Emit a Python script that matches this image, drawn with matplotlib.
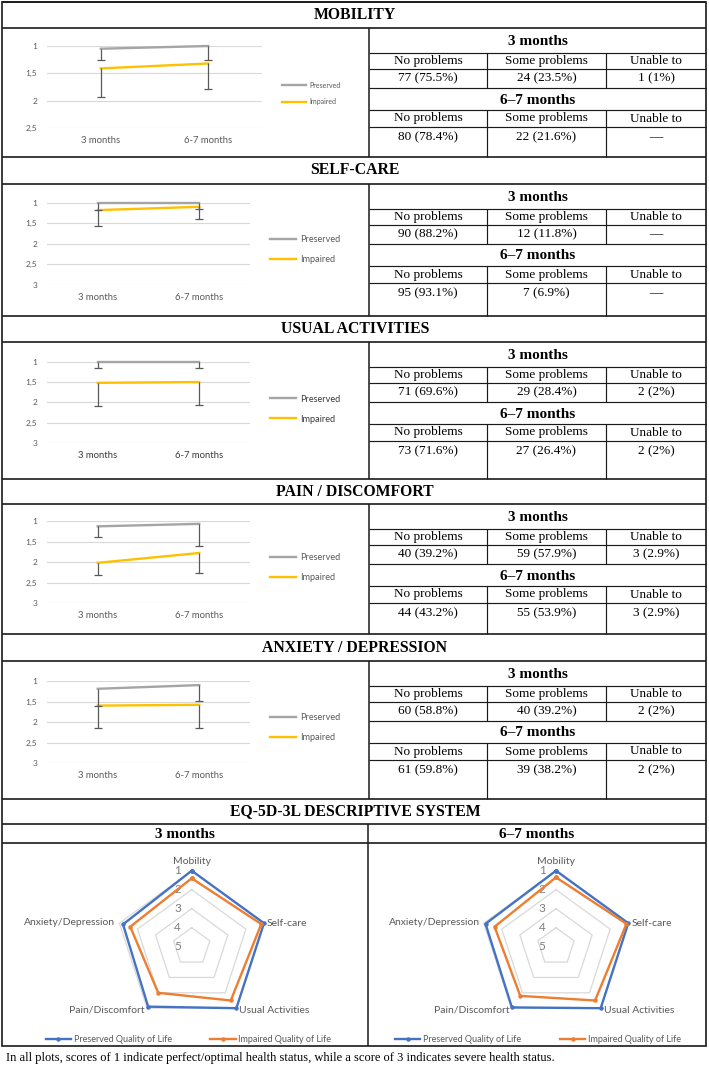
import matplotlib
matplotlib.use('Agg')
import matplotlib.pyplot as plt
import numpy as np
from matplotlib.lines import Line2D
from matplotlib.patches import Rectangle
from matplotlib.transforms import offset_copy

plt.rcParams['font.family'] = ['Lato', 'DejaVu Sans']

W, H = 709, 1073

# ---- data ----
timepoints = ['3 months', '6-7 months']
domain_titles = ['MOBILITY', 'SELF-CARE', 'USUAL ACTIVITIES', 'PAIN / DISCOMFORT', 'ANXIETY / DEPRESSION']

preserved_mean = [[1.05, 1.00], [1.00, 1.00], [1.00, 1.00], [1.13, 1.07], [1.19, 1.10]]
preserved_err = [[0.21, 0.26], [0.17, 0.15], [0.16, 0.16], [0.27, 0.53], [0.41, 0.39]]
impaired_mean = [[1.41, 1.32], [1.18, 1.10], [1.52, 1.50], [2.02, 1.78], [1.60, 1.58]]
impaired_err = [[0.52, 0.47], [0.38, 0.30], [0.56, 0.56], [0.29, 0.49], [0.55, 0.56]]
y_max = [2.5, 3, 3, 3, 3]

answer_labels = ['No problems', 'Some problems', 'Unable to']
counts_3m = [[77, 24, 1], [90, 12, 0], [71, 29, 2], [40, 59, 3], [60, 40, 2]]
pct_3m = [[75.5, 23.5, 1], [88.2, 11.8, 0], [69.6, 28.4, 2], [39.2, 57.9, 2.9], [58.8, 39.2, 2]]
counts_67m = [[80, 22, 0], [95, 7, 0], [73, 27, 2], [44, 55, 3], [61, 39, 2]]
pct_67m = [[78.4, 21.6, 0], [93.1, 6.9, 0], [71.6, 26.4, 2], [43.2, 53.9, 2.9], [59.8, 38.2, 2]]

radar_axes = ['Mobility', 'Self-care', 'Usual Activities', 'Pain/Discomfort', 'Anxiety/Depression']
radar_preserved_3m = [1.0, 1.0, 1.0, 1.1, 1.2]
radar_impaired_3m = [1.4, 1.15, 1.5, 2.0, 1.6]
radar_preserved_67m = [1.0, 1.0, 1.0, 1.05, 1.1]
radar_impaired_67m = [1.35, 1.1, 1.5, 1.8, 1.6]
radar_levels = [1, 2, 3, 4, 5]

footnote = ('In all plots, scores of 1 indicate perfect/optimal health status, '
            'while a score of 3 indicates severe health status.')


def fx(x):
    return x / W


def fy(y):
    return 1 - y / H


fig = plt.figure(figsize=(W / 100, H / 100), dpi=100)

SERIF = 'Liberation Serif'
LINE = '#1a1a1a'


def hline(y, x0, x1, lw=0.85):
    fig.add_artist(Line2D([fx(x0), fx(x1)], [fy(y), fy(y)], transform=fig.transFigure,
                          color=LINE, lw=lw, solid_capstyle='butt'))


def vline(x, y0, y1, lw=0.85):
    fig.add_artist(Line2D([fx(x), fx(x)], [fy(y0), fy(y1)], transform=fig.transFigure,
                          color=LINE, lw=lw, solid_capstyle='butt'))


def cell(s):
    n, p = s
    return '—' if n == 0 else f'{n} ({p:g}%)'


# ---- table frame ----
fig.add_artist(Rectangle((fx(2), fy(1046)), fx(704), (1044) / H, transform=fig.transFigure,
                         fill=False, ec=LINE, lw=1.2))

sec_top = [2, 157, 316, 479, 634]
sec_head = [28, 184, 342, 504, 661]
sec_bot = [157, 316, 479, 634, 799]
rows = [25, 41, 60, 82, 99]
TX0, C1, C2, TX1 = 369, 487, 606, 706
col_cx = [(TX0 + C1) / 2, (C1 + C2) / 2, (C2 + TX1) / 2]

for i in range(5):
    top, head, bot = sec_top[i], sec_head[i], sec_bot[i]
    hline(top, 2, 706, 1.2)
    hline(head, 2, 706, 1.2)
    fig.text(fx(355), fy((top + head) / 2), domain_titles[i], ha='center', va='center',
             family=SERIF, weight='bold', size=11.3)
    vline(TX0, head, bot, 1.1)
    for off in rows:
        hline(head + off, TX0, TX1)
    for cx in (C1, C2):
        vline(cx, head + rows[0], head + rows[2])
        vline(cx, head + rows[3], bot)
    fig.text(fx((TX0 + TX1) / 2), fy(head + rows[0] / 2 + 1), '3 months', ha='center',
             va='center', family=SERIF, weight='bold', size=11)
    fig.text(fx((TX0 + TX1) / 2), fy(head + (rows[2] + rows[3]) / 2 + 1), '6–7 months',
             ha='center', va='center', family=SERIF, weight='bold', size=11)
    for j in range(3):
        fig.text(fx(col_cx[j]), fy(head + (rows[0] + rows[1]) / 2), answer_labels[j],
                 ha='center', va='center', family=SERIF, size=9.5)
        fig.text(fx(col_cx[j]), fy(head + (rows[1] + rows[2]) / 2),
                 cell((counts_3m[i][j], pct_3m[i][j])),
                 ha='center', va='center', family=SERIF, size=9.5)
        fig.text(fx(col_cx[j]), fy(head + (rows[3] + rows[4]) / 2), answer_labels[j],
                 ha='center', va='center', family=SERIF, size=9.5)
        fig.text(fx(col_cx[j]), fy(head + rows[4] + 10),
                 cell((counts_67m[i][j], pct_67m[i][j])),
                 ha='center', va='center', family=SERIF, size=9.5)

# EQ-5D section frame
hline(799, 2, 706, 1.2)
hline(824, 2, 706, 1.2)
hline(843, 2, 706, 1.2)
vline(368, 824, 1046, 1.1)
fig.text(fx(355), fy(811.5), 'EQ-5D-3L DESCRIPTIVE SYSTEM', ha='center', va='center',
         family=SERIF, weight='bold', size=11.3)
fig.text(fx(185), fy(834), '3 months', ha='center', va='center', family=SERIF,
         weight='bold', size=11)
fig.text(fx(537), fy(834), '6–7 months', ha='center', va='center', family=SERIF,
         weight='bold', size=11)

# ---- line charts ----
chart_top = [46, 202.7, 361.7, 521, 681]
chart_bot = [128, 285, 443, 603, 763]
chart_right = [262, 250, 250, 250, 250]
legend_x = [282, 270, 270, 270, 270]
legend_y = [93.5, 250, 409, 568, 728]
GREY_TXT = '#595959'

for i in range(5):
    small = i == 0
    ax = fig.add_axes([fx(47), fy(chart_bot[i]), (chart_right[i] - 47) / W,
                       (chart_bot[i] - chart_top[i]) / H])
    xs = np.arange(len(timepoints))
    lp, = ax.plot(xs, preserved_mean[i], color='#A5A5A5', lw=1.7, label='Preserved',
                  zorder=3, clip_on=False)
    li, = ax.plot(xs, impaired_mean[i], color='#FFC000', lw=1.7, label='Impaired',
                  zorder=3, clip_on=False)
    for mean, err in ((preserved_mean[i], preserved_err[i]), (impaired_mean[i], impaired_err[i])):
        hi = np.array(mean) + np.array(err)
        ax.vlines(xs, mean, hi, color='#595959', lw=0.9, zorder=4, clip_on=False)
        ax.plot(xs, hi, ls='none', marker='_', ms=6, mew=0.9, color='#595959', zorder=4,
                clip_on=False)
    ax.set_xlim(-0.5, 1.5)
    ax.set_ylim(y_max[i], 1)
    ticks = np.arange(1, y_max[i] + 0.01, 0.5)
    ax.set_yticks(ticks, [f'{t:g}'.replace('.', ',') for t in ticks])
    ax.set_xticks(xs, timepoints)
    ax.grid(axis='y', color='#D9D9D9', lw=0.8)
    ax.set_axisbelow(True)
    for s in ax.spines.values():
        s.set_visible(False)
    xcol = '#3a3a3a' if i == 2 else GREY_TXT
    ax.tick_params(axis='y', length=0, pad=7, labelsize=6, labelcolor=GREY_TXT)
    ax.tick_params(axis='x', length=0, pad=6, labelsize=6.8, labelcolor=xcol)
    fs = 5 if small else 6.6
    ax.legend(handles=[lp, li], loc='center left',
              bbox_to_anchor=(fx(legend_x[i]), fy(legend_y[i])),
              bbox_transform=fig.transFigure, frameon=False, fontsize=fs,
              handlelength=3.4 if small else 2.8, handletextpad=0.5,
              labelspacing=1.4 if small else 1.2, borderpad=0, borderaxespad=0,
              labelcolor=xcol)

# ---- radar charts ----
R = 76
CY = 946.7
angles = np.deg2rad(np.arange(len(radar_axes)) * 72)
closed = np.append(angles, angles[0])
label_style = [
    dict(dx=0, dy=5, ha='center', va='bottom'),
    dict(dx=3, dy=0, ha='left', va='center'),
    dict(dx=3, dy=-2, ha='left', va='center'),
    dict(dx=-2, dy=-2, ha='right', va='center'),
    dict(dx=-4, dy=1, ha='right', va='center'),
]

for cx, vp, vi, lx in ((191.7, radar_preserved_3m, radar_impaired_3m, 188.5),
                       (556, radar_preserved_67m, radar_impaired_67m, 538)):
    ax = fig.add_axes([fx(cx - R), fy(CY + R), 2 * R / W, 2 * R / H], projection='polar')
    ax.set_theta_zero_location('N')
    ax.set_theta_direction(-1)
    ax.set_ylim(5, 1)
    ax.grid(False)
    ax.set_xticks([])
    ax.set_yticks([])
    ax.spines['polar'].set_visible(False)
    ax.patch.set_visible(False)
    for lvl in radar_levels[:-1]:
        ax.plot(closed, [lvl] * len(closed), color='#D9D9D9', lw=0.9, zorder=1, clip_on=False)
    for lvl in radar_levels:
        ax.text(0, lvl, str(lvl), transform=offset_copy(ax.transData, fig=fig, x=-14, y=0,
                                                        units='dots'),
                ha='center', va='center', color='#7F7F7F', size=8.5)
    hp, = ax.plot(closed, np.append(vp, vp[0]), color='#4472C4',
                  lw=1.7, marker='o', ms=2.2, label='Preserved Quality of Life', clip_on=False,
                  zorder=3)
    hi_, = ax.plot(closed, np.append(vi, vi[0]), color='#ED7D31', lw=1.7, marker='o', ms=2.2,
                   label='Impaired Quality of Life', clip_on=False, zorder=3)
    for k, name in enumerate(radar_axes):
        st = label_style[k]
        ax.text(angles[k], 1, name,
                transform=offset_copy(ax.transData, fig=fig, x=st['dx'], y=st['dy'], units='dots'),
                ha=st['ha'], va=st['va'], color=GREY_TXT, size=7.5)
    ax.legend(handles=[hp, hi_], loc='center', bbox_to_anchor=(fx(lx), fy(1040)),
              bbox_transform=fig.transFigure, ncol=2, frameon=False, fontsize=6.5,
              handlelength=2.8, columnspacing=4.3, handletextpad=0.3, labelcolor=GREY_TXT)

fig.text(fx(6), fy(1058), footnote, ha='left', va='center', family=SERIF, size=9)

fig.savefig('out.png', dpi=100, facecolor='white')
